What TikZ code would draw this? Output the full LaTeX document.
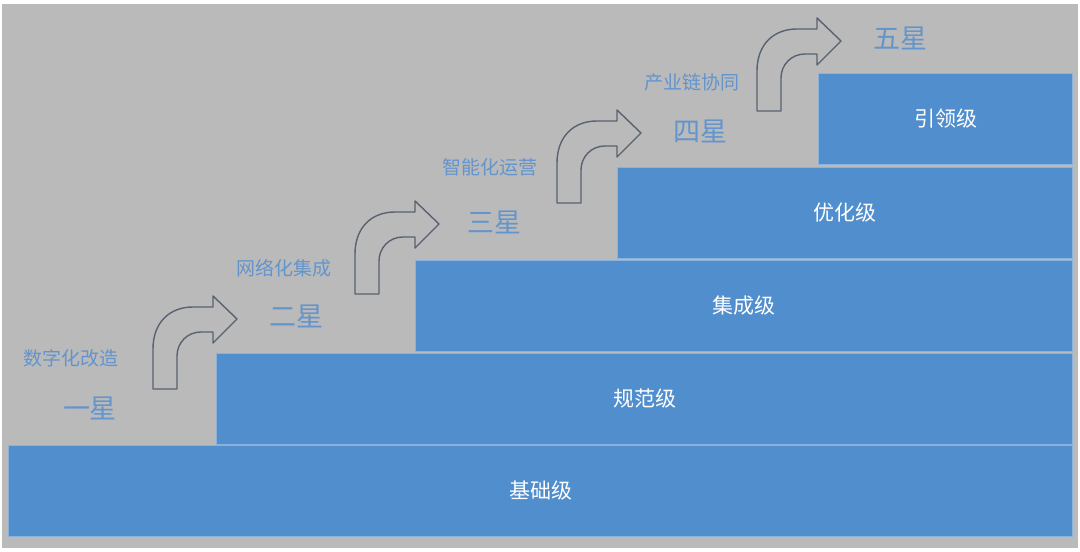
\documentclass[tikz,border=0pt]{standalone}
\usepackage{fontspec}
\usepackage{tikz}
\newfontfamily\cjk{Noto Sans CJK SC}
\definecolor{fond}{RGB}{186,186,186}
\definecolor{bleu}{RGB}{80,142,205}
\definecolor{bleuclair}{RGB}{138,178,218}
\definecolor{texte}{RGB}{98,148,206}
\definecolor{fleche}{RGB}{88,98,112}

\begin{document}
\begin{tikzpicture}[x=1pt, y=1pt]
	% STYLES
	\tikzstyle{niveau} = [fill=bleu, draw=bleuclair, line width=1pt, anchor=south west, inner sep=0pt, text=white, font=\cjk\fontsize{21}{21}\selectfont]
	\tikzstyle{nometape} = [text=texte, inner sep=0pt, font=\cjk\fontsize{19}{19}\selectfont]
	\tikzstyle{etoile} = [text=texte, inner sep=0pt, font=\cjk\fontsize{27}{27}\selectfont]
	\tikzstyle{virage} = [draw=fleche, line width=1.4pt, line join=round]

	% FOND
	\useasboundingbox (0, 0) rectangle (1080, 552);
	\fill[white] (0, 0) rectangle (1080, 552);
	\fill[fond] (2, 4) rectangle (1078, 548);

	% NIVEAUX
	\node[niveau, minimum width=1064pt, minimum height=91pt] (jichu) at (8, 15) {基础级};
	\node[niveau, minimum width=856pt, minimum height=91pt] (guifan) at (216, 107) {规范级};
	\node[niveau, minimum width=657pt, minimum height=91pt] (jicheng) at (415, 200) {集成级};
	\node[niveau, minimum width=455pt, minimum height=91pt] (youhua) at (617, 293) {优化级};
	\node[niveau, minimum width=254pt, minimum height=91pt] (yinling) at (818, 387) {引领级};

	% FLECHES
	\foreach \x/\y in {153/163, 355/258, 557/349, 757/441}
	{
		\begin{scope}[shift={(\x, \y)}]
			\draw[virage] (0, 0) -- (0, 40)
				.. controls (0, 66) and (16, 82) .. (40, 82)
				-- (60, 82) -- (60, 93) -- (84, 70) -- (60, 46) -- (60, 57)
				-- (48, 57) .. controls (34, 57) and (24, 46) .. (24, 33)
				-- (24, 0) -- cycle;
		\end{scope}
	}

	% ETAPES
	% 1
	\node[nometape] (etape1) at (71, 194) {数字化改造};
	\node[etoile] (etoile1) at (90, 144) {一星};
	% 2
	\node[nometape] (etape2) at (284, 284) {网络化集成};
	\node[etoile] (etoile2) at (296, 236) {二星};
	% 3
	\node[nometape] (etape3) at (490, 385) {智能化运营};
	\node[etoile] (etoile3) at (494, 330) {三星};
	% 4
	\node[nometape] (etape4) at (692, 470) {产业链协同};
	\node[etoile] (etoile4) at (700, 421) {四星};
	% 5
	\node[etoile] (etoile5) at (900, 514) {五星};
\end{tikzpicture}
\end{document}
